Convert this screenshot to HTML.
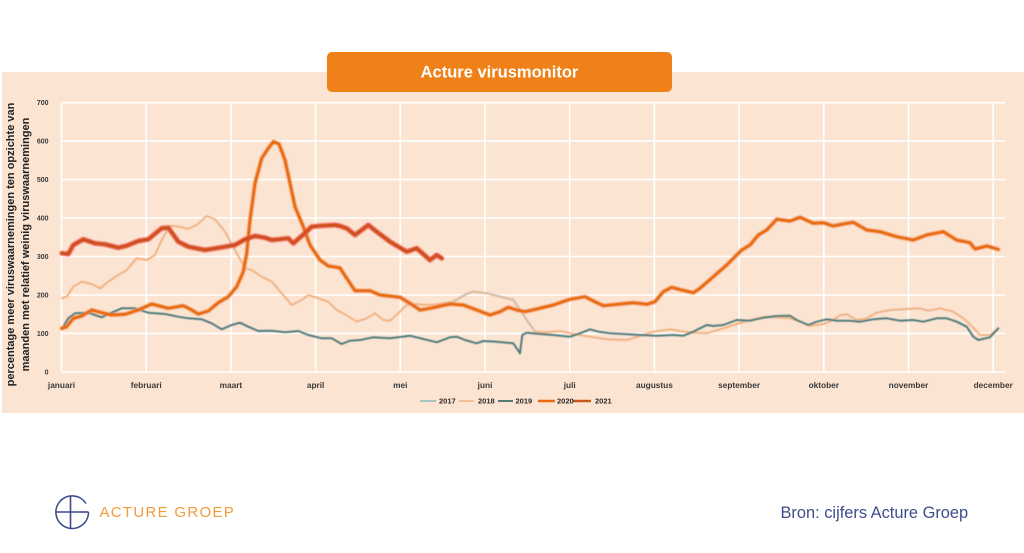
<!DOCTYPE html>
<html>
<head>
<meta charset="utf-8">
<style>
  html,body{margin:0;padding:0;background:#fff;}
  body{width:1024px;height:553px;overflow:hidden;position:relative;font-family:"Liberation Sans",sans-serif;}
  svg{position:absolute;left:0;top:0;}
</style>
</head>
<body>
<svg width="1024" height="553" viewBox="0 0 1024 553" xmlns="http://www.w3.org/2000/svg">
  <defs>
    <filter id="blur1" x="-5%" y="-5%" width="110%" height="110%"><feGaussianBlur stdDeviation="0.6"/></filter>
  </defs>
  <!-- peach background -->
  <rect x="2" y="72" width="1022" height="341" fill="#fce4d3"/>

  <!-- gridlines -->
  <g stroke="#ffffff" stroke-width="1.6" fill="none">
    <line x1="62" y1="102.7" x2="1005" y2="102.7"/>
    <line x1="62" y1="141.1" x2="1005" y2="141.1"/>
    <line x1="62" y1="179.6" x2="1005" y2="179.6"/>
    <line x1="62" y1="218" x2="1005" y2="218"/>
    <line x1="62" y1="256.5" x2="1005" y2="256.5"/>
    <line x1="62" y1="295" x2="1005" y2="295"/>
    <line x1="62" y1="333.4" x2="1005" y2="333.4"/>
    <line x1="62" y1="372" x2="1005" y2="372"/>
    <line x1="61.5" y1="102.7" x2="61.5" y2="372"/>
    <line x1="146.2" y1="102.7" x2="146.2" y2="372"/>
    <line x1="230.9" y1="102.7" x2="230.9" y2="372"/>
    <line x1="315.6" y1="102.7" x2="315.6" y2="372"/>
    <line x1="400.3" y1="102.7" x2="400.3" y2="372"/>
    <line x1="485" y1="102.7" x2="485" y2="372"/>
    <line x1="569.7" y1="102.7" x2="569.7" y2="372"/>
    <line x1="654.4" y1="102.7" x2="654.4" y2="372"/>
    <line x1="739.1" y1="102.7" x2="739.1" y2="372"/>
    <line x1="823.8" y1="102.7" x2="823.8" y2="372"/>
    <line x1="908.5" y1="102.7" x2="908.5" y2="372"/>
    <line x1="993.2" y1="102.7" x2="993.2" y2="372"/>
  </g>

  <!-- y tick labels -->
  <g font-family="Liberation Sans, sans-serif" font-size="7" font-weight="bold" fill="#3a3a3a" text-anchor="end">
    <text x="48.5" y="105.2">700</text>
    <text x="48.5" y="143.6">600</text>
    <text x="48.5" y="182.1">500</text>
    <text x="48.5" y="220.5">400</text>
    <text x="48.5" y="259">300</text>
    <text x="48.5" y="297.5">200</text>
    <text x="48.5" y="335.9">100</text>
    <text x="48.5" y="374.5">0</text>
  </g>

  <!-- x month labels -->
  <g font-family="Liberation Sans, sans-serif" font-size="8.3" font-weight="bold" fill="#3a3a3a" text-anchor="middle">
    <text x="61.5" y="388">januari</text>
    <text x="146.2" y="388">februari</text>
    <text x="230.9" y="388">maart</text>
    <text x="315.6" y="388">april</text>
    <text x="400.3" y="388">mei</text>
    <text x="485" y="388">juni</text>
    <text x="569.7" y="388">juli</text>
    <text x="654.4" y="388">augustus</text>
    <text x="739.1" y="388">september</text>
    <text x="823.8" y="388">oktober</text>
    <text x="908.5" y="388">november</text>
    <text x="993.2" y="388">december</text>
  </g>

  <!-- y axis title -->
  <g font-family="Liberation Sans, sans-serif" font-size="11" font-weight="bold" fill="#222" text-anchor="middle">
    <text transform="translate(14,244.5) rotate(-90)">percentage meer viruswaarnemingen ten opzichte van</text>
    <text transform="translate(29,244.5) rotate(-90)">maanden met relatief weinig viruswaarnemingen</text>
  </g>

  <!-- series -->
  <g fill="none" stroke-linejoin="round" stroke-linecap="round" filter="url(#blur1)">
    <!-- 2018 -->
    <polyline stroke="#efb384" stroke-width="2" points="61.7,298.3 66.7,296.7 73.3,286.7 81.7,281.7 91.7,284 100,288.3 108.3,281.7 118.3,275 126.7,270 136.7,258.3 146.7,260 155,255 161.7,240 170,225.7 180,226.7 188.3,229 196.7,225 206.7,216 215,219.3 225,231.7 235,250 245,268.3 251.7,270 261.7,276.7 271.7,281.7 281.7,293.3 291.7,305 301.7,300 308.3,295 318.3,298.3 328.3,301.7 336.7,310 345,314.3 356.7,321.7 366.7,318.3 375,313.3 383.3,320 390,320.7 398.3,313.3 406.7,305 416.7,304 426.7,305 440,304 453.3,301.7 466.7,294 473.3,291.7 486.7,293.3 500,296.7 513.3,300 520,310 526.7,320 535,331.7 546.7,332.3 560,331 573.3,334 590,336.7 606.7,339.3 626.7,340 640,336 653.3,331.7 670,329.3 680,331 693.3,332.7 706.7,333.3 723.3,328.3 736.7,324 750,320 766.7,316.7 776.7,317.3 790,318.3 800,321.7 810,326 823.3,324 833.3,320 840,315.3 846.7,314.3 856.7,320 866.7,318.3 876.7,312.7 890,310 906.7,309 920,308.3 928.3,310.7 940,308.3 953.3,311.7 963.3,318.3 971.7,326 980,335 990,335 998.3,328.3"/>
    <!-- 2017 (partial, faint) -->
    <polyline stroke="#c5bfb2" stroke-width="1.5" opacity="0.8" points="453.3,301 466.7,293.5 473.3,291.3 486.7,293 500,296.3 513.3,299.5 520,309.5 526.7,319.5 535,331.3"/>
    <!-- 2019 -->
    <polyline stroke="#4f7b7b" stroke-width="2" points="61.7,329.3 68.3,318.3 75,313.3 88.3,312.7 95,315 101.7,317.3 111.7,312.7 121.7,308.3 135,308.3 148.3,312.7 165,314 178.3,316.7 188.3,318.3 201.7,319.3 211.7,323.3 221.7,329.3 231.7,325 240,322.7 248.3,326.7 258.3,331 271.7,330.7 285,332.3 298.3,331 308.3,335 321.7,338.3 331.7,338.3 341.7,344 350,340.7 360,340 373.3,337.3 390,338.3 410,335.7 423.3,339 436.7,342.3 450,337.3 456.7,336.7 465,340 476.7,343.3 483.3,341 496.7,341.7 513.3,343.3 516.7,348.3 520,353.3 522.3,335 526.7,332.7 540,334 553.3,335 570,336.7 580,333.3 590,329.3 598.3,331.7 610,333.3 623.3,334 640,335 656.7,335.7 673.3,335 683.3,335.7 693.3,331.7 706.7,325 713.3,326 723.3,325 736.7,320 750,320.7 763.3,317.7 776.7,316 790,315.7 796.7,320 808.3,325 816.7,321.7 826.7,319.3 836.7,320.7 850,320.7 860,321.7 873.3,319.3 886.7,318.3 900,320.7 913.3,320 923.3,321.7 936.7,318.3 946.7,318.3 956.7,321.7 966.7,326.7 973.3,336.7 978.3,340 990,337.3 998.3,328.3"/>
    <!-- 2020 -->
    <polyline stroke="#f5a36b" stroke-width="5" opacity="0.5" points="61.7,328.3 66.7,326.7 73.3,318.3 81.7,316 91.7,310 101.7,312.7 111.7,315 125,314.3 138.3,310 151.7,304 168.3,308.3 183.3,305.7 191.7,310 198.3,314 208.3,311 218.3,302.7 228.3,296.7 236.7,286.7 243.3,271.7 246.7,253.3 250,220 255,183.3 261.7,158.3 268.3,148.3 273.3,141.7 279,144 285,160 290,183.3 295,206.7 303.3,226.7 310,245 320,260 328.3,266 336.7,267.3 340,268 346.7,278.3 355,290.7 370,290.7 380,295 400,297.3 410,303.3 420,310 430,308.3 450,304 463.3,305 476.7,310 490,315 500,311.7 508.3,307.3 516.7,310 525,311.7 536.7,309 553.3,305 570,299.3 585,296.7 593.3,301 603.3,305.7 620,304 633.3,302.7 646.7,304.3 655,301.7 663.3,291.7 671.7,287.3 681.7,290 693.3,292.7 700,288.3 713.3,276.7 726.7,265 741.7,250 750,245 758.3,235 766.7,230 776.7,219.3 790,221 800,217.3 813.3,223.3 823.3,222.7 833.3,226 843.3,224 853.3,222.3 866.7,230 880,231.7 896.7,236.7 913.3,240 926.7,235 943.3,231.7 956.7,240 970,242.7 975,249 986.7,246 998.3,249.3"/>
    <polyline stroke="#e8690f" stroke-width="3" points="61.7,328.3 66.7,326.7 73.3,318.3 81.7,316 91.7,310 101.7,312.7 111.7,315 125,314.3 138.3,310 151.7,304 168.3,308.3 183.3,305.7 191.7,310 198.3,314 208.3,311 218.3,302.7 228.3,296.7 236.7,286.7 243.3,271.7 246.7,253.3 250,220 255,183.3 261.7,158.3 268.3,148.3 273.3,141.7 279,144 285,160 290,183.3 295,206.7 303.3,226.7 310,245 320,260 328.3,266 336.7,267.3 340,268 346.7,278.3 355,290.7 370,290.7 380,295 400,297.3 410,303.3 420,310 430,308.3 450,304 463.3,305 476.7,310 490,315 500,311.7 508.3,307.3 516.7,310 525,311.7 536.7,309 553.3,305 570,299.3 585,296.7 593.3,301 603.3,305.7 620,304 633.3,302.7 646.7,304.3 655,301.7 663.3,291.7 671.7,287.3 681.7,290 693.3,292.7 700,288.3 713.3,276.7 726.7,265 741.7,250 750,245 758.3,235 766.7,230 776.7,219.3 790,221 800,217.3 813.3,223.3 823.3,222.7 833.3,226 843.3,224 853.3,222.3 866.7,230 880,231.7 896.7,236.7 913.3,240 926.7,235 943.3,231.7 956.7,240 970,242.7 975,249 986.7,246 998.3,249.3"/>
    <!-- 2021 -->
    <polyline stroke="#ee5b4f" stroke-width="5.5" opacity="0.7" points="62,253.3 68.3,254 73.3,245 83.3,239.3 95,243.3 105,244.3 118.3,247.7 126.7,245.7 138.3,241 148.3,239.3 161.7,228.3 168.3,227.7 178.3,241.7 188.3,246.7 205,250 221.7,247.3 235,245 245,239.3 255,236 265,237.7 271.7,240 288.3,238.3 293.3,243.3 301.7,236 311.7,226.7 321.7,225.7 335,225 340,226 346.7,228.3 355,235 368.3,225 376.7,231.7 390,241.7 406.7,251.7 416.7,248.3 430,260 436.7,255 441.7,258.3"/>
    <polyline stroke="#cf4e1a" stroke-width="3.2" points="62,253.3 68.3,254 73.3,245 83.3,239.3 95,243.3 105,244.3 118.3,247.7 126.7,245.7 138.3,241 148.3,239.3 161.7,228.3 168.3,227.7 178.3,241.7 188.3,246.7 205,250 221.7,247.3 235,245 245,239.3 255,236 265,237.7 271.7,240 288.3,238.3 293.3,243.3 301.7,236 311.7,226.7 321.7,225.7 335,225 340,226 346.7,228.3 355,235 368.3,225 376.7,231.7 390,241.7 406.7,251.7 416.7,248.3 430,260 436.7,255 441.7,258.3"/>
  </g>

  <!-- legend -->
  <g stroke-linecap="butt">
    <line x1="420" y1="401" x2="436" y2="401" stroke="#a9c3c3" stroke-width="2"/>
    <line x1="459" y1="401" x2="474" y2="401" stroke="#f5bd92" stroke-width="2"/>
    <line x1="498" y1="401" x2="513" y2="401" stroke="#4f7b7b" stroke-width="2"/>
    <line x1="538" y1="401" x2="555" y2="401" stroke="#e8690f" stroke-width="2.5"/>
    <line x1="573" y1="401" x2="591" y2="401" stroke="#c85a1a" stroke-width="2.5"/>
  </g>
  <g font-family="Liberation Sans, sans-serif" font-size="7.5" font-weight="bold" fill="#2a2a2a">
    <text x="439" y="403.6">2017</text>
    <text x="478" y="403.6">2018</text>
    <text x="515.5" y="403.6">2019</text>
    <text x="557" y="403.6">2020</text>
    <text x="595" y="403.6">2021</text>
  </g>

  <!-- title box -->
  <rect x="327" y="52" width="345" height="40" rx="5" ry="5" fill="#ef8118"/>
  <text x="499.5" y="77.5" font-family="Liberation Sans, sans-serif" font-size="16.5" font-weight="bold" fill="#ffffff" text-anchor="middle">Acture virusmonitor</text>

  <!-- footer logo -->
  <g fill="none" stroke="#3d4a8a" stroke-width="1.6">
    <path d="M 88.5 512 A 16.3 16.3 0 1 1 86 503.5"/>
    <line x1="56.2" y1="512" x2="80" y2="512"/>
    <path d="M 70.5 495.8 L 70.5 528.2"/>
    <path d="M 80 512 L 88.5 512"/>
  </g>
  <text x="99.5" y="517" font-family="Liberation Sans, sans-serif" font-size="15" fill="#f29a3a" letter-spacing="1.3">ACTURE GROEP</text>

  <text x="780.5" y="518" font-family="Liberation Sans, sans-serif" font-size="16.4" fill="#3f4d8c">Bron: cijfers Acture Groep</text>
</svg>
</body>
</html>
